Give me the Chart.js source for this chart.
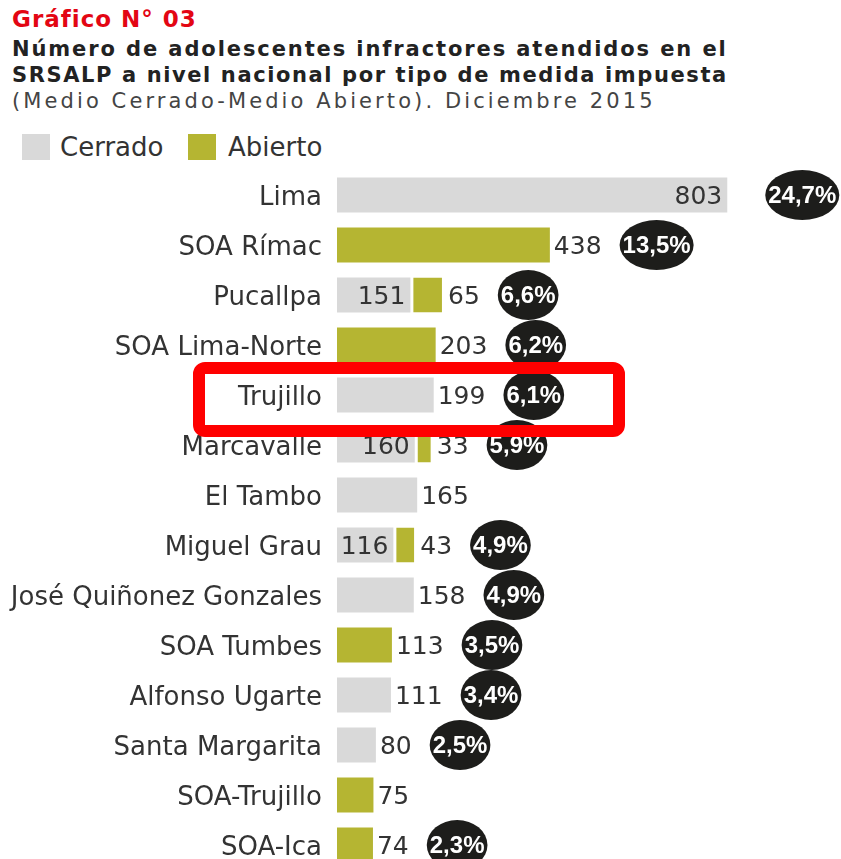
<!DOCTYPE html>
<html lang="es">
<head>
<meta charset="utf-8">
<title>Gráfico N° 03</title>
<script src="https://cdn.jsdelivr.net/npm/chart.js@4.4.0/dist/chart.umd.min.js"></script>
<style>
  html, body { margin: 0; padding: 0; background: #fff; width: 841px; height: 859px; overflow: hidden; }
  body { position: relative; font-family: "DejaVu Sans", sans-serif; color: #333; }
  .line { position: absolute; left: 12px; white-space: nowrap; line-height: 1; }
  .kicker { top: 8px; font-size: 23px; font-weight: bold; color: #e30613; letter-spacing: 1px; }
  .title { font-size: 21px; font-weight: bold; color: #222; }
  .sub { top: 91px; font-size: 21px; color: #444; letter-spacing: 3.1px; }
  .sw { position: absolute; top: 134px; width: 28px; height: 26px; }
  .lg { position: absolute; top: 134px; font-size: 26px; line-height: 1; color: #333; }
  .frame { position: absolute; left: 0; top: 0; width: 841px; height: 859px; overflow: hidden; }
  canvas { position: absolute; left: 0; top: 0; }
</style>
</head>
<body>
<div class="line kicker">Gráfico N° 03</div>
<div class="line title" style="top:39px;letter-spacing:1.9px">Número de adolescentes infractores atendidos en el</div>
<div class="line title" style="top:65px;letter-spacing:1.6px">SRSALP a nivel nacional por tipo de medida impuesta</div>
<div class="line sub">(Medio Cerrado-Medio Abierto). Diciembre 2015</div>

<span class="sw" style="left:22px;background:#d9d9d9"></span>
<span class="lg" style="left:60px">Cerrado</span>
<span class="sw" style="left:188px;background:#b5b532"></span>
<span class="lg" style="left:228px">Abierto</span>

<!-- canvas is taller than the window: the last row is cut off like in the original -->
<div class="frame"><canvas id="chart" width="841" height="880"></canvas></div>

<script>
const categories = [
  'Lima', 'SOA Rímac', 'Pucallpa', 'SOA Lima-Norte', 'Trujillo', 'Marcavalle',
  'El Tambo', 'Miguel Grau', 'José Quiñonez Gonzales', 'SOA Tumbes',
  'Alfonso Ugarte', 'Santa Margarita', 'SOA-Trujillo', 'SOA-Ica'
];
const cerrado = [803, 0, 151, 0, 199, 160, 165, 116, 158, 0, 111, 80, 0, 0];
const abierto = [0, 438, 65, 203, 0, 33, 0, 43, 0, 113, 0, 0, 75, 74];
const shares = ['24,7%', '13,5%', '6,6%', '6,2%', '6,1%', '5,9%', null,
  '4,9%', '4,9%', '3,5%', '3,4%', '2,5%', null, '2,3%'];
const highlighted = 'Trujillo';

const GRAY = '#d9d9d9';
const OLIVE = '#b5b532';
const TEXT = '#333';

// numbers next to the bars + black ovals with the share
const barLabels = {
  id: 'barLabels',
  afterDatasetsDraw(chart) {
    const ctx = chart.ctx;
    const c = chart.getDatasetMeta(0).data;
    const a = chart.getDatasetMeta(1).data;
    ctx.save();
    ctx.textBaseline = 'middle';
    categories.forEach((name, i) => {
      const y = c[i].y + 2;
      ctx.font = '25px "DejaVu Sans"';
      ctx.fillStyle = TEXT;
      let end;
      if (cerrado[i] && abierto[i]) {
        ctx.textAlign = 'right';
        ctx.fillText(cerrado[i], c[i].x - 5, y);
        ctx.textAlign = 'left';
        ctx.fillText(abierto[i], a[i].x + 6, y);
        end = a[i].x + 6 + ctx.measureText(String(abierto[i])).width;
      } else {
        const bar = cerrado[i] ? c[i] : a[i];
        const val = String(cerrado[i] || abierto[i]);
        if (bar.x - bar.base > 300) {
          ctx.textAlign = 'right';
          ctx.fillText(val, bar.x - 5, y);
          end = bar.x + 20;
        } else {
          ctx.textAlign = 'left';
          ctx.fillText(val, bar.x + 4, y);
          end = bar.x + 4 + ctx.measureText(val).width;
        }
      }
      if (!shares[i]) return;
      ctx.font = 'bold 24px "Liberation Sans", Arial, sans-serif';
      const w = ctx.measureText(shares[i]).width;
      const rx = w / 2 + 3;
      const cx = end + 18 + rx;
      ctx.fillStyle = '#1d1d1b';
      ctx.beginPath();
      ctx.ellipse(cx, c[i].y, rx, 25, 0, 0, Math.PI * 2);
      ctx.fill();
      ctx.fillStyle = '#fff';
      ctx.textAlign = 'center';
      ctx.fillText(shares[i], cx, c[i].y + 1);
    });
    ctx.restore();
  }
};

// red frame around the highlighted row
const highlightBox = {
  id: 'highlightBox',
  afterDraw(chart) {
    const i = categories.indexOf(highlighted);
    if (i < 0) return;
    const ctx = chart.ctx;
    const left = chart.chartArea.left;
    const y = chart.scales.y.getPixelForValue(i);
    ctx.save();
    ctx.strokeStyle = '#ff0000';
    ctx.lineWidth = 12;
    ctx.lineJoin = 'round';
    ctx.beginPath();
    ctx.roundRect(left - 138, y - 27, 420, 63, 6);
    ctx.stroke();
    ctx.restore();
  }
};

new Chart(document.getElementById('chart'), {
  type: 'bar',
  data: {
    labels: categories,
    datasets: [
      {
        label: 'Cerrado',
        data: cerrado,
        backgroundColor: GRAY,
        barPercentage: 0.7,
        categoryPercentage: 1
      },
      {
        label: 'Abierto',
        data: abierto,
        backgroundColor: OLIVE,
        borderColor: '#fff',
        borderSkipped: false,
        borderWidth: ctx => cerrado[ctx.dataIndex] > 0 ? { left: 3, right: 0, top: 0, bottom: 0 } : 0,
        barPercentage: 0.7,
        categoryPercentage: 1
      }
    ]
  },
  options: {
    indexAxis: 'y',
    responsive: false,
    animation: false,
    events: [],
    layout: { padding: { top: 170, bottom: 10, left: 0, right: 18 } },
    plugins: {
      legend: { display: false },
      tooltip: { enabled: false }
    },
    scales: {
      x: { stacked: true, display: false, min: 0, max: 1000 },
      y: {
        stacked: true,
        grid: { display: false, drawTicks: false },
        border: { display: false },
        ticks: {
          color: TEXT,
          padding: 15,
          labelOffset: 3,
          font: { family: 'DejaVu Sans', size: 26 }
        },
        afterFit(scale) {
          scale.width = 337;
          scale.paddingTop = 0;
          scale.paddingBottom = 0;
        }
      }
    }
  },
  plugins: [barLabels, highlightBox]
});
</script>
</body>
</html>
